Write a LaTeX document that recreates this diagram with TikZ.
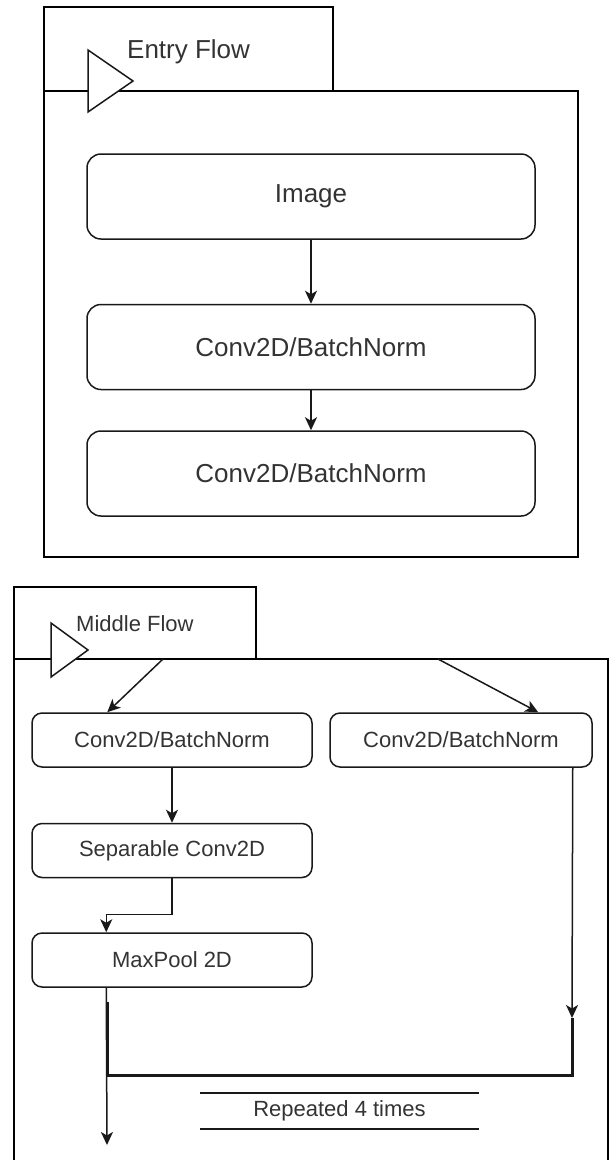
\documentclass[tikz,border=0pt]{standalone}
\usepackage{fontspec}
\setmainfont{Liberation Sans}
\usepackage{tikz}
\usetikzlibrary{positioning}
\usetikzlibrary{calc}
\usetikzlibrary{arrows.meta}
\tikzset{entrynode/.style={rectangle, rounded corners=14pt, draw=black!90, line width=1.5pt, minimum width=448pt, minimum height=85pt, text=black!80, font=\fontsize{26}{30}\selectfont}}
\tikzset{middlenode/.style={rectangle, rounded corners=10pt, draw=black!90, line width=1.5pt, minimum width=280pt, minimum height=54pt, text=black!80, font=\fontsize{22}{26}\selectfont}}
\tikzset{frame/.style={draw=black, line width=1.8pt}}
\tikzset{flag/.style={draw=black!90, fill=white, line width=1.5pt, line join=miter}}
\tikzset{arrow/.style={-{Stealth[length=13pt, width=12pt, inset=3.5pt]}, line width=1.5pt, black!90}}

\begin{document}
\begin{tikzpicture}[x=1pt, y=-1pt]
    \useasboundingbox (0,0) rectangle (610,1160);

    % entry flow
    \draw[frame] (44,7) rectangle (333,91);
    \draw[frame] (44,91) rectangle (578,557);
    \draw[flag] (88,50) -- (133,81) -- (88,112) -- cycle;
    \node[anchor=base west, text=black!80, font=\fontsize{26}{30}\selectfont, inner sep=0pt] (entrytitle) at (127,58) {Entry Flow};

    \node[entrynode]      (image)                         at (311,196.5)  {Image};
    \node[entrynode]      (convA)     [below=64pt of image]               {Conv2D/BatchNorm};
    \node[entrynode]      (convB)     [below=40pt of convA]               {Conv2D/BatchNorm};

    \draw[arrow] (image.south) -- (convA.north);
    \draw[arrow] (convA.south) -- (convB.north);

    % middle flow
    \draw[frame] (14,587) rectangle (256,659);
    \draw[frame] (14,1160) -- (14,659) -- (608,659) -- (608,1160);
    \draw[flag] (51,623) -- (88,650) -- (51,677) -- cycle;
    \node[anchor=base west, text=black!80, font=\fontsize{22}{26}\selectfont, inner sep=0pt] (middletitle) at (76,631) {Middle Flow};

    \node[middlenode]                     (convL)                           at (172,740)    {Conv2D/BatchNorm};
    \node[middlenode, minimum width=262pt] (convR)                          at (461,740)    {Conv2D/BatchNorm};
    \node[middlenode]                     (sepconv)   [below=55pt of convL]                 {Separable Conv2D};
    \node[middlenode]                     (maxpool)   [below=54pt of sepconv]               {MaxPool 2D};
    \node[text=black!80, font=\fontsize{22}{26}\selectfont, minimum width=279pt, minimum height=36pt] (repeat) at (339.5,1111) {Repeated 4 times};

    \coordinate (splitL) at (163,659);
    \coordinate (splitR) at (438,659);
    \coordinate (out)    at (107,1145);

    \draw[arrow] (splitL) -- ($(convL.north west)+(76,0)$);
    \draw[arrow] (splitR) -- ($(convR.north west)+(209,0)$);
    \draw[arrow] (convL.south) -- (sepconv.north);
    \draw[arrow] (sepconv.south) -- ++(0,36) -| ($(maxpool.north west)+(75,0)$);
    \draw[arrow] ($(convR.south east)+(-20,0)$) -- (572,1018);
    \draw[arrow] ($(maxpool.south west)+(75,0)$) -- (out);
    \draw[line width=3pt, black!90, line join=miter] (107,1002) -- (107,1075) -- (572,1075) -- (572,1018);

    \draw[line width=1.5pt, black!90] (repeat.north west) -- (repeat.north east);
    \draw[line width=1.5pt, black!90] (repeat.south west) -- (repeat.south east);
\end{tikzpicture}
\end{document}
